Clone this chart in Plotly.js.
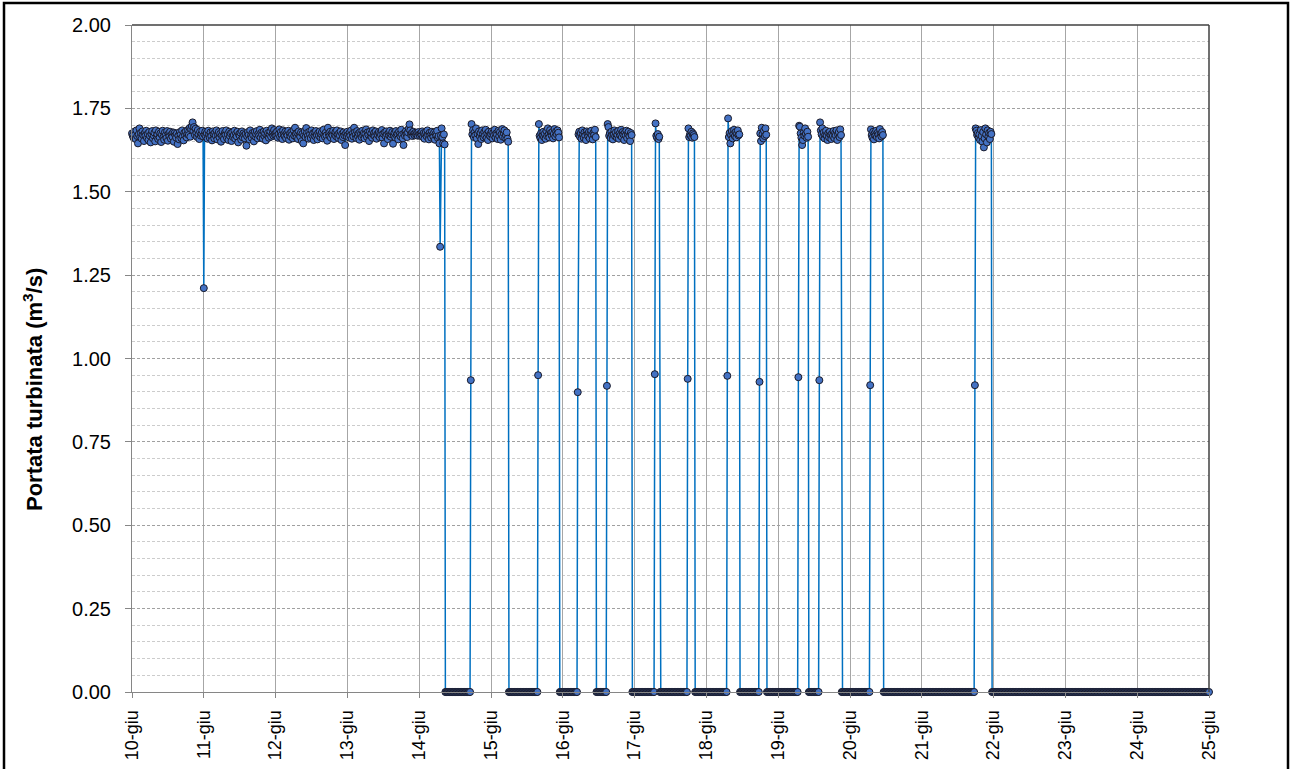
<!DOCTYPE html>
<html>
<head>
<meta charset="utf-8">
<script src="https://cdn.plot.ly/plotly-3.0.1.min.js"></script>
<style>html,body{margin:0;padding:0;background:#fff;}#chart{width:1293px;height:769px;}</style>
</head>
<body>
<div id="chart"></div>
<script>
// Portata turbinata (m3/s), one value every 15 minutes, from 10-giu 00:00 to 25-giu 00:00
const startTime = '2023-06-10 00:00';
const stepMs = 15 * 60 * 1000;

const dayTickDates = ['2023-06-10','2023-06-11','2023-06-12','2023-06-13','2023-06-14','2023-06-15','2023-06-16','2023-06-17','2023-06-18','2023-06-19','2023-06-20','2023-06-21','2023-06-22','2023-06-23','2023-06-24','2023-06-25'];
const dayTickLabels = ['10-giu','11-giu','12-giu','13-giu','14-giu','15-giu','16-giu','17-giu','18-giu','19-giu','20-giu','21-giu','22-giu','23-giu','24-giu','25-giu'];
const yTickVals = [0, 0.25, 0.5, 0.75, 1.0, 1.25, 1.5, 1.75, 2.0];
const yTickLabels = ['0.00','0.25','0.50','0.75','1.00','1.25','1.50','1.75','2.00'];

const d10 = [
1.675,1.668,1.662,1.680,1.671,1.658,1.684,1.667,1.645,1.672,1.690,1.664,1.677,1.659,1.681,1.670,1.652,1.676,1.668,1.683,
1.661,1.674,1.655,1.679,1.668,1.648,1.673,1.682,1.660,1.669,1.677,1.651,1.684,1.666,1.672,1.658,1.680,1.663,1.675,1.649,
1.671,1.683,1.664,1.656,1.678,1.669,1.661,1.682,1.653,1.674,1.667,1.680,1.659,1.672,1.665,1.678,1.650,1.676,1.669,1.662,
1.675,1.643,1.668,1.657,1.679,1.671,1.660,1.684,1.666,1.654,1.677,1.669,1.681,1.663,1.673,1.686,1.670,1.691,1.665,1.688,
1.697,1.708,1.682,1.694,1.671,1.689,1.676,1.664,1.685,1.672,1.658,1.680,1.668,1.674,1.683,1.666
];
const d11 = [
1.211,1.672,1.680,1.665,1.676,1.659,1.683,1.670,1.662,1.678,1.667,1.654,1.681,1.673,1.660,1.677,1.668,1.684,1.657,1.671,
1.679,1.663,1.674,1.650,1.669,1.682,1.666,1.658,1.676,1.671,1.684,1.661,1.673,1.655,1.680,1.667,1.675,1.652,1.678,1.664,
1.670,1.683,1.659,1.674,1.666,1.680,1.648,1.672,1.668,1.677,1.656,1.681,1.663,1.675,1.669,1.660,1.673,1.638,1.666,1.679,
1.671,1.657,1.684,1.668,1.662,1.676,1.670,1.651,1.679,1.665,1.673,1.682,1.660,1.674,1.668,1.686,1.663,1.677,1.671,1.659,
1.680,1.667,1.675,1.654,1.683,1.669,1.676,1.662,1.672,1.681,1.665,1.690,1.674,1.668,1.685,1.671
];
const d12 = [
1.676,1.668,1.681,1.662,1.673,1.687,1.665,1.679,1.670,1.658,1.684,1.672,1.667,1.680,1.661,1.675,1.669,1.683,1.656,1.674,
1.666,1.679,1.671,1.660,1.685,1.668,1.692,1.673,1.663,1.677,1.658,1.681,1.670,1.665,1.678,1.652,1.674,1.645,1.669,1.682,
1.664,1.691,1.676,1.667,1.659,1.680,1.672,1.661,1.684,1.669,1.675,1.655,1.678,1.666,1.682,1.670,1.657,1.676,1.668,1.681,
1.663,1.673,1.679,1.660,1.686,1.671,1.665,1.677,1.669,1.653,1.692,1.674,1.667,1.680,1.662,1.675,1.670,1.683,1.658,1.672,
1.679,1.666,1.684,1.671,1.661,1.676,1.668,1.681,1.655,1.673,1.664,1.678,1.669,1.640,1.675,1.667
];
const d13 = [
1.680,1.671,1.663,1.677,1.668,1.684,1.659,1.674,1.666,1.692,1.678,1.670,1.661,1.682,1.667,1.675,1.656,1.679,1.672,1.664,
1.683,1.669,1.676,1.660,1.674,1.687,1.665,1.678,1.671,1.652,1.680,1.668,1.675,1.662,1.684,1.670,1.677,1.666,1.681,1.659,
1.673,1.669,1.679,1.664,1.676,1.670,1.685,1.662,1.674,1.645,1.678,1.667,1.681,1.671,1.658,1.676,1.668,1.683,1.665,1.672,
1.679,1.644,1.670,1.677,1.663,1.682,1.669,1.674,1.657,1.680,1.672,1.666,1.686,1.671,1.660,1.640,1.675,1.668,1.681,1.673,
1.664,1.678,1.689,1.702,1.684,1.671,1.676,1.667,1.680,1.673,1.669,1.677,1.671,1.675,1.668,1.679
];
const d14 = [
1.672,1.668,1.675,1.670,1.681,1.664,1.676,1.659,1.673,1.679,1.666,1.684,1.670,1.657,1.677,1.669,1.662,1.680,1.671,1.665,
1.678,1.656,1.674,1.668,1.683,1.661,1.667,1.645,1.335,1.668,1.690,1.664,1.645,1.672,1.642,
0,0,0,0,0,0,0,0,0,0,
0,0,0,0,0,0,0,0,0,0,
0,0,0,0,0,0,0,0,0,0,
0,0,0,0,
0.935,
1.703,1.672,1.685,1.664,1.678,1.669,1.690,1.660,1.674,1.643,1.681,1.667,1.676,1.658,1.684,1.671,1.663,1.679,1.668,1.686,
1.661,1.675,1.655,1.680,1.670,1.666
];
const d15 = [
1.674,1.681,1.660,1.677,1.669,1.686,1.663,1.675,1.671,1.658,1.683,1.667,1.679,1.656,1.672,1.688,1.665,1.676,1.684,1.662,
1.670,1.678,1.659,1.650,
0,0,0,0,0,0,0,0,0,0,
0,0,0,0,0,0,0,0,0,0,
0,0,0,0,0,0,0,0,0,0,
0,0,0,0,0,0,0,0,0,
0.950,
1.703,1.668,1.661,1.676,1.655,1.670,1.680,1.664,1.674,1.659,1.682,1.667,1.690,1.671,1.663,1.685,1.676,1.669,1.679,1.660,
1.673,1.688,1.666,1.681,1.672,1.684,1.677,1.663,
0,0,0,0
];
const d16 = [
0,0,0,0,0,0,0,0,0,0,
0,0,0,0,0,0,0,0,0,0,
0.899,
1.672,1.680,1.665,1.676,1.659,1.684,1.670,1.662,1.678,1.668,1.655,1.681,1.673,1.666,1.679,1.660,1.675,1.683,1.669,1.657,
1.677,1.671,1.686,1.664,
0,0,0,0,0,0,0,0,0,0,
0,0,0,0,
0.918,
1.703,1.694,1.668,1.676,1.661,1.680,1.670,1.657,1.673,1.684,1.666,1.678,1.663,1.671,1.682,1.659,1.675,1.668,1.686,1.664,
1.679,1.672,1.655,1.677,1.669,1.683,1.661,1.674,1.680,1.667,1.652,1.676,1.670,
0,0,0
];
const d17 = [
0,0,0,0,0,0,0,0,0,0,
0,0,0,0,0,0,0,0,0,0,
0,0,0,0,0,0,0,
0.953,
1.705,1.668,1.662,1.673,1.658,1.665,
0,0,0,0,0,0,0,0,0,0,
0,0,0,0,0,0,0,0,0,0,
0,0,0,0,0,0,0,0,0,0,
0,0,0,0,0,0,0,
0.939,
1.690,1.664,1.672,1.668,1.680,1.662,1.675,1.670,1.664,
0,0,0,0,0,0,0,0,0,0,
0,0,0,0,0
];
const d18 = [
0,0,0,0,0,0,0,0,0,0,
0,0,0,0,0,0,0,0,0,0,
0,0,0,0,0,0,0,0,
0.948,
1.720,1.664,1.676,1.645,1.670,1.682,1.660,1.673,1.686,1.667,1.679,1.663,1.675,1.684,1.669,1.672,
0,0,0,0,0,0,0,0,0,0,
0,0,0,0,0,0,0,0,0,0,
0,0,0,0,0,0,
0.930,
1.675,1.652,1.692,1.672,1.660,1.683,1.667,1.690,1.671,
0,0,0,0,0,0,0,0,0,0,
0,0,0,0,0
];
const d19 = [
0,0,0,0,0,0,0,0,0,0,
0,0,0,0,0,0,0,0,0,0,
0,0,0,0,0,0,0,
0.944,
1.698,1.695,1.675,1.662,1.640,1.655,1.677,1.668,1.690,1.673,1.662,1.680,1.665,
0,0,0,0,0,0,0,0,0,0,
0,0,0,0,
0.935,
1.708,1.684,1.672,1.690,1.665,1.678,1.660,1.671,1.683,1.668,1.655,1.676,1.663,1.680,1.670,1.658,1.674,1.667,1.682,1.661,
1.676,1.669,1.684,1.655,1.672,1.679,1.664,1.687,1.670,
0,0,0,0,0,0,0,0,0,0,
0
];
const d20 = [
0,0,0,0,0,0,0,0,0,0,
0,0,0,0,0,0,0,0,0,0,
0,0,0,0,0,0,0,
0.920,
1.687,1.670,1.662,1.680,1.657,1.675,1.668,1.683,1.664,1.677,1.671,1.660,1.688,1.673,1.666,1.679,1.670,
0,0,0,0,0,0,0,0,0,0,
0,0,0,0,0,0,0,0,0,0,
0,0,0,0,0,0,0,0,0,0,
0,0,0,0,0,0,0,0,0,0,
0,0,0,0,0,0,0,0,0,0,
0
];
const d21 = [
0,0,0,0,0,0,0,0,0,0,
0,0,0,0,0,0,0,0,0,0,
0,0,0,0,0,0,0,0,0,0,
0,0,0,0,0,0,0,0,0,0,
0,0,0,0,0,0,0,0,0,0,
0,0,0,0,0,0,0,0,0,0,
0,0,0,0,0,0,0,0,0,0,
0,
0.920,
1.690,1.683,1.670,1.676,1.662,1.672,1.655,1.685,1.667,1.650,1.679,1.633,1.660,1.690,1.672,1.648,1.684,1.665,1.677,1.658,
1.680,1.673,
0,0
];
const d22 = [
0,0,0,0,0,0,0,0,0,0, 0,0,0,0,0,0,0,0,0,0, 0,0,0,0,0,0,0,0,0,0, 0,0,0,0,0,0,0,0,0,0,
0,0,0,0,0,0,0,0,0,0, 0,0,0,0,0,0,0,0,0,0, 0,0,0,0,0,0,0,0,0,0, 0,0,0,0,0,0,0,0,0,0,
0,0,0,0,0,0,0,0,0,0, 0,0,0,0,0,0
];
const d23 = [
0,0,0,0,0,0,0,0,0,0, 0,0,0,0,0,0,0,0,0,0, 0,0,0,0,0,0,0,0,0,0, 0,0,0,0,0,0,0,0,0,0,
0,0,0,0,0,0,0,0,0,0, 0,0,0,0,0,0,0,0,0,0, 0,0,0,0,0,0,0,0,0,0, 0,0,0,0,0,0,0,0,0,0,
0,0,0,0,0,0,0,0,0,0, 0,0,0,0,0,0
];
const d24 = [
0,0,0,0,0,0,0,0,0,0, 0,0,0,0,0,0,0,0,0,0, 0,0,0,0,0,0,0,0,0,0, 0,0,0,0,0,0,0,0,0,0,
0,0,0,0,0,0,0,0,0,0, 0,0,0,0,0,0,0,0,0,0, 0,0,0,0,0,0,0,0,0,0, 0,0,0,0,0,0,0,0,0,0,
0,0,0,0,0,0,0,0,0,0, 0,0,0,0,0,0
];
const d25 = [0];

const days = [d10,d11,d12,d13,d14,d15,d16,d17,d18,d19,d20,d21,d22,d23,d24];
const flow = [].concat(...days, d25);
const badDays = days.map((d,k)=> d.length!==96 ? (10+k)+':'+d.length : null).filter(Boolean);

const FONT = 'Liberation Sans, Arial, sans-serif';

const trace = {
  type: 'scatter',
  mode: 'lines+markers',
  x0: startTime,
  dx: stepMs,
  y: flow,
  line: {color: '#0070C0', width: 1.5},
  marker: {size: 7, color: '#4472C4', line: {color: '#1a1a28', width: 1}},
  cliponaxis: false,
  hoverinfo: 'skip',
  showlegend: false
};

const annotations = [{
  text: 'Portata turbinata (m<sup>3</sup>/s)',
  xref: 'paper', yref: 'paper',
  x: (33 - 132) / 1077, y: (692 - 390) / 667,
  xanchor: 'center', yanchor: 'middle',
  textangle: -90, showarrow: false,
  font: {family: FONT, size: 22, color: '#000', weight: 700}
}];
if (badDays.length) {
  annotations.push({text: 'LEN ' + badDays.join(' '), xref:'paper', yref:'paper', x:0.5, y:0.5, showarrow:false, font:{size:30,color:'red'}});
}

const layout = {
  width: 1293, height: 769,
  margin: {l: 132, r: 84, t: 25, b: 77, pad: 0},
  paper_bgcolor: '#ffffff',
  plot_bgcolor: '#ffffff',
  showlegend: false,
  xaxis: {
    type: 'date',
    range: [dayTickDates[0], dayTickDates[dayTickDates.length - 1]],
    tickmode: 'array',
    tickvals: dayTickDates,
    ticktext: dayTickLabels,
    tickangle: -90,
    ticks: 'outside', ticklen: 5, tickcolor: '#868686', tickwidth: 1,
    ticklabelstandoff: 5,
    showgrid: true, gridcolor: '#a6a6a6', gridwidth: 1,
    showline: true, linecolor: '#868686', linewidth: 1,
    zeroline: false,
    tickfont: {family: FONT, size: 18, color: '#000'}
  },
  yaxis: {
    range: [0, 2],
    tickmode: 'array',
    tickvals: yTickVals,
    ticktext: yTickLabels,
    ticks: 'outside', ticklen: 6, tickcolor: '#868686', tickwidth: 1,
    ticklabelstandoff: 10,
    showgrid: true, gridcolor: '#a0a0a0', gridwidth: 1, griddash: '3px,2px',
    minor: {dtick: 0.05, showgrid: true, gridcolor: '#cccccc', gridwidth: 1, griddash: '3px,2px', ticks: ''},
    showline: true, linecolor: '#868686', linewidth: 1,
    zeroline: false,
    tickfont: {family: FONT, size: 20, color: '#000'}
  },
  shapes: [
    {type: 'line', xref: 'paper', yref: 'paper', x0: 0, x1: 1, y0: 1, y1: 1, line: {color: '#404040', width: 1.5}},
    {type: 'line', xref: 'paper', yref: 'paper', x0: 1, x1: 1, y0: 0, y1: 1, line: {color: '#404040', width: 1.5}},
    {type: 'rect', xref: 'paper', yref: 'paper',
     x0: (4 - 132) / 1077, x1: (1288 - 132) / 1077, y0: (692 - 780) / 667, y1: (692 - 3) / 667,
     line: {color: '#000000', width: 2.5}, fillcolor: 'rgba(0,0,0,0)'}
  ],
  annotations: annotations
};

Plotly.newPlot('chart', [trace], layout, {displayModeBar: false, staticPlot: true});
</script>
</body>
</html>
